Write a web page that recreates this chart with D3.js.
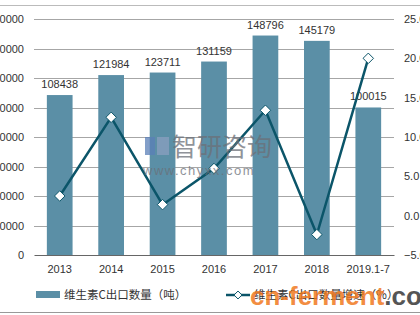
<!DOCTYPE html>
<html>
<head>
<meta charset="utf-8">
<script src="https://cdn.jsdelivr.net/npm/d3@7"></script>
<style>
  body { margin: 0; background: #fff; }
  svg { display: block; font-family: "Liberation Sans", Arial, sans-serif; }
</style>
</head>
<body>
<div id="chart"></div>
<script>
var barColor = "#5b8fa6";
var lineColor = "#0b5569";

var years = ["2013", "2014", "2015", "2016", "2017", "2018", "2019.1-7"];
var exportQty = [108438, 121984, 123711, 131159, 148796, 145179, 100015];
var growth = [2.5, 12.5, 1.4, 6.0, 13.4, -2.4, 20.0];
var leftTicks = [0, 20000, 40000, 60000, 80000, 100000, 120000, 140000, 160000];
var rightTicks = [-5, 0, 5, 10, 15, 20, 25];

var width = 420, height = 315;
var plotLeft = 34, plotRight = 394, plotTop = 19, plotBottom = 255;

var svg = d3.select("#chart").append("svg")
    .attr("width", width)
    .attr("height", height);

var x = d3.scaleBand()
    .domain(years)
    .range([plotLeft, plotRight])
    .paddingInner(0.5)
    .paddingOuter(0.25);

var yL = d3.scaleLinear()
    .domain([0, 160000])
    .range([plotBottom, plotTop]);

var yR = d3.scaleLinear()
    .domain([-5, 25])
    .range([plotBottom, plotTop]);

// frame lines
svg.append("line")
    .attr("x1", 0).attr("x2", width)
    .attr("y1", 5.5).attr("y2", 5.5)
    .attr("stroke", "#bbb");
svg.append("line")
    .attr("x1", 0).attr("x2", width)
    .attr("y1", 312.5).attr("y2", 312.5)
    .attr("stroke", "#999");

// grid lines
svg.append("g")
    .selectAll("line")
    .data(leftTicks.slice(1))
    .join("line")
    .attr("x1", plotLeft).attr("x2", plotRight)
    .attr("y1", function(d){ return Math.round(yL(d)) + 0.5; })
    .attr("y2", function(d){ return Math.round(yL(d)) + 0.5; })
    .attr("stroke", "#a6a6a6");

// left axis labels
var axL = svg.append("g")
    .attr("transform", "translate(" + (plotLeft - 10) + ",0)")
    .call(d3.axisLeft(yL).tickValues(leftTicks).tickSize(0).tickPadding(0).tickFormat(d3.format("d")));
axL.select(".domain").remove();
axL.selectAll("text")
    .attr("fill", "#333")
    .attr("font-size", "11px");

// right axis labels
var axR = svg.append("g")
    .attr("transform", "translate(" + (plotRight + 10) + ",0)")
    .call(d3.axisRight(yR).tickValues(rightTicks).tickFormat(d3.format(".1f")).tickSize(0).tickPadding(0));
axR.select(".domain").remove();
axR.selectAll("text")
    .attr("fill", "#333")
    .attr("font-size", "11px");

// bars
svg.append("g")
    .selectAll("rect")
    .data(exportQty)
    .join("rect")
    .attr("x", function(d, i){ return x(years[i]); })
    .attr("y", function(d){ return yL(d); })
    .attr("width", x.bandwidth())
    .attr("height", function(d){ return plotBottom - yL(d); })
    .attr("fill", barColor);

// bar values
svg.append("g")
    .selectAll("text")
    .data(exportQty)
    .join("text")
    .attr("x", function(d, i){ return x(years[i]) + x.bandwidth() / 2; })
    .attr("y", function(d){ return yL(d) - 7; })
    .attr("text-anchor", "middle")
    .attr("fill", "#333")
    .attr("font-size", "11px")
    .text(function(d){ return d; });

// x axis
var axX = svg.append("g")
    .attr("transform", "translate(0," + plotBottom + ")")
    .call(d3.axisBottom(x).tickSize(0).tickPadding(10));
axX.select(".domain").attr("stroke", "#666").attr("stroke-width", 1.2);
axX.selectAll("text")
    .attr("fill", "#333")
    .attr("font-size", "11px");

// growth line
var line = d3.line()
    .x(function(d, i){ return x(years[i]) + x.bandwidth() / 2; })
    .y(function(d){ return yR(d); });

svg.append("path")
    .datum(growth)
    .attr("d", line)
    .attr("fill", "none")
    .attr("stroke", lineColor)
    .attr("stroke-width", 2.5);

svg.append("g")
    .selectAll("path")
    .data(growth)
    .join("path")
    .attr("transform", function(d, i){
        return "translate(" + (x(years[i]) + x.bandwidth() / 2) + "," + yR(d) + ")";
    })
    .attr("d", d3.symbol().type(d3.symbolDiamond2).size(70))
    .attr("fill", "#fff")
    .attr("stroke", lineColor)
    .attr("stroke-width", 1);

// legend
var leg = svg.append("g").attr("transform", "translate(36,295)");
leg.append("rect")
    .attr("x", 0).attr("y", -4)
    .attr("width", 24).attr("height", 7)
    .attr("fill", barColor);
leg.append("text")
    .attr("x", 28).attr("y", 4)
    .attr("fill", "#333")
    .attr("font-size", "11.5px")
    .attr("font-family", "'Noto Sans CJK SC', sans-serif")
    .text("维生素C出口数量（吨）");

var leg2 = svg.append("g").attr("transform", "translate(226,295)");
leg2.append("line")
    .attr("x1", 0).attr("x2", 24)
    .attr("y1", 0).attr("y2", 0)
    .attr("stroke", lineColor)
    .attr("stroke-width", 2.5);
leg2.append("path")
    .attr("transform", "translate(12,0)")
    .attr("d", d3.symbol().type(d3.symbolDiamond2).size(40))
    .attr("fill", "#fff")
    .attr("stroke", lineColor);
leg2.append("text")
    .attr("x", 28).attr("y", 4)
    .attr("fill", "#333")
    .attr("font-size", "11.5px")
    .attr("font-family", "'Noto Sans CJK SC', sans-serif")
    .text("维生素C出口数量增速（%）");

// watermarks
var wm = svg.append("g").attr("opacity", 0.75);
wm.append("rect")
    .attr("x", 145).attr("y", 137)
    .attr("width", 10).attr("height", 18)
    .attr("fill", "#5a7fb8");
wm.append("rect")
    .attr("x", 157).attr("y", 137)
    .attr("width", 12).attr("height", 18)
    .attr("fill", "#8aa0c0");
wm.append("text")
    .attr("x", 172).attr("y", 156)
    .attr("fill", "#6b6f78")
    .attr("font-size", "25px")
    .attr("font-family", "'Noto Sans CJK SC', sans-serif")
    .text("智研咨询");
wm.append("text")
    .attr("x", 143).attr("y", 175)
    .attr("fill", "#6b6f78")
    .attr("font-size", "13px")
    .attr("letter-spacing", "1.5px")
    .text("www.chyxx.com");

var wm2 = svg.append("text")
    .attr("x", 250).attr("y", 305)
    .attr("font-size", "26px")
    .attr("font-weight", "bold")
    .attr("font-family", "'Liberation Sans', Arial, sans-serif");
wm2.append("tspan").attr("fill", "#f07820").attr("fill-opacity", 0.85).text("cn-ferment");
wm2.append("tspan").attr("fill", "#555").text(".com");
</script>
</body>
</html>
